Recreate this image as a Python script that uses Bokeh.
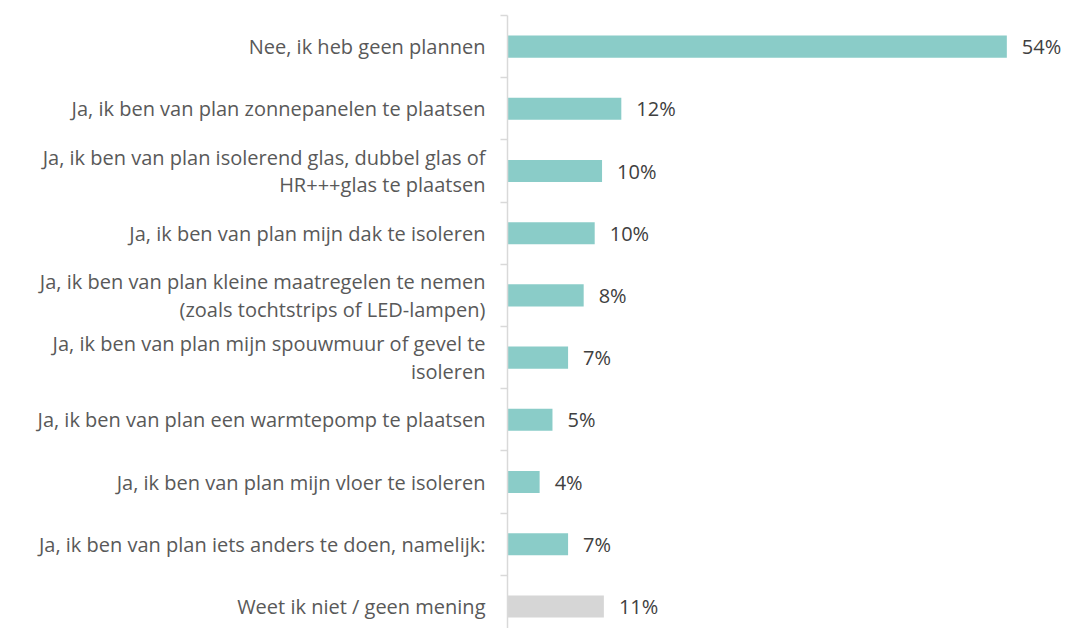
from bokeh.plotting import figure
from bokeh.models import ColumnDataSource, Range1d, FixedTicker
from bokeh.core.properties import value
from bokeh.embed import file_html
from bokeh.resources import INLINE

categories = [
    "Nee, ik heb geen plannen",
    "Ja, ik ben van plan zonnepanelen te plaatsen",
    "Ja, ik ben van plan isolerend glas, dubbel glas of\nHR+++glas te plaatsen",
    "Ja, ik ben van plan mijn dak te isoleren",
    "Ja, ik ben van plan kleine maatregelen te nemen\n(zoals tochtstrips of LED-lampen)",
    "Ja, ik ben van plan mijn spouwmuur of gevel te\nisoleren",
    "Ja, ik ben van plan een warmtepomp te plaatsen",
    "Ja, ik ben van plan mijn vloer te isoleren",
    "Ja, ik ben van plan iets anders te doen, namelijk:",
    "Weet ik niet / geen mening",
]
values = [54.4, 12.4, 10.3, 9.5, 8.3, 6.6, 4.9, 3.5, 6.6, 10.5]
labels = ["54%", "12%", "10%", "10%", "8%", "7%", "5%", "4%", "7%", "11%"]
colors = ["#8ACCC8"] * 9 + ["#D6D6D6"]

n = len(categories)
ypos = [n - 1 - i for i in range(n)]

src = ColumnDataSource(dict(y=ypos, v=values, lab=labels, c=colors))

FONT = "Open Sans"

p = figure(width=1066, height=628, output_backend="svg", toolbar_location=None,
           x_range=Range1d(0, 60.9), y_range=Range1d(-0.355, n - 0.5),
           x_axis_location=None, min_border_left=507, min_border_top=15,
           min_border_bottom=0, min_border_right=0)
p.outline_line_color = None
p.grid.visible = False
p.background_fill_color = "white"
p.border_fill_color = "white"

p.hbar(y="y", right="v", left=0, height=0.355, fill_color="c", line_color=None, source=src)
p.text(x="v", y="y", text="lab", x_offset=15, text_baseline="middle", text_align="left",
       text_font=value(FONT), text_font_size="20px", text_color="#404040", source=src)

ax = p.yaxis[0]
ax.ticker = FixedTicker(ticks=ypos, minor_ticks=[k + 0.5 for k in range(-1, n)])
ax.major_label_overrides = {y: c for y, c in zip(ypos, categories)}
ax.major_tick_line_color = None
ax.major_tick_out = 0
ax.major_tick_in = 0
ax.minor_tick_line_color = "#D9D9D9"
ax.minor_tick_line_width = 1.5
ax.minor_tick_out = 7
ax.minor_tick_in = 0
ax.axis_line_color = "#D9D9D9"
ax.axis_line_width = 1.5
ax.major_label_standoff = 15
ax.major_label_text_font = FONT
ax.major_label_text_font_size = "20px"
ax.major_label_text_color = "#595959"
ax.major_label_text_line_height = 1.03

open("out.html", "w").write(file_html(p, INLINE))
